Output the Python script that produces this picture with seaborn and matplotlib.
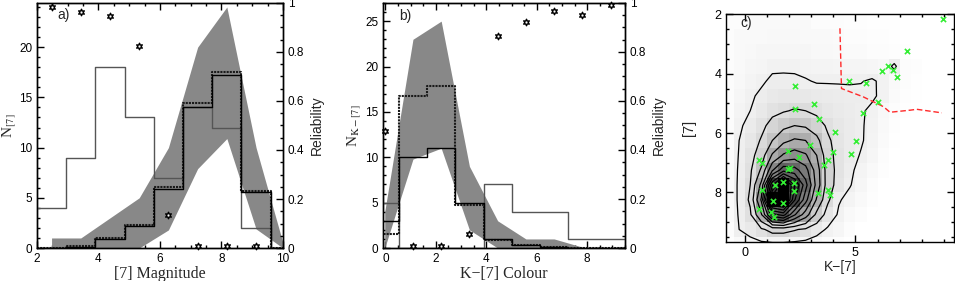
import numpy as np
import matplotlib
matplotlib.use("Agg")
import matplotlib.pyplot as plt
from matplotlib.colors import PowerNorm
from matplotlib.ticker import MultipleLocator
import seaborn as sns

sns.set_style("ticks")
plt.rcParams["font.family"] = ["Liberation Sans", "DejaVu Sans"]
plt.rcParams["mathtext.fontset"] = "stix"
plt.rcParams["xtick.direction"] = "in"
plt.rcParams["ytick.direction"] = "in"
plt.rcParams["axes.edgecolor"] = "black"
plt.rcParams["axes.linewidth"] = 1.0
plt.rcParams["xtick.color"] = "black"
plt.rcParams["ytick.color"] = "black"

SERIF = "Liberation Serif"

# ---- panel a: [7] magnitude ----
edges_a = [2.0, 2.95, 3.9, 4.85, 5.8, 6.75, 7.7, 8.65, 9.6, 10.0]
hist_a_all = [4, 9, 18, 13, 7, 14, 12, 2, 0]
hist_a_dot = [0, 0.25, 0.95, 2.3, 6.1, 14.4, 17.5, 5.7, 0]
hist_a_sol = [0, 0.15, 0.85, 2.15, 5.9, 14.0, 17.2, 5.6, 0]
band_a_x = [2.475, 3.425, 4.375, 5.325, 6.275, 7.225, 8.175, 9.125, 10.0]
band_a_lo = [0, 0, 0, 0, 1.8, 7.9, 10.9, 1.9, 0]
band_a_hi = [1, 1, 3, 5, 10, 20, 24, 10, 0.5]
rel_a_x = [2.475, 3.425, 4.375, 5.325, 6.275, 7.225, 8.175, 9.125]
rel_a = [0.984, 0.965, 0.948, 0.823, 0.135, 0.01, 0.01, 0.01]

# ---- panel b: K-[7] colour ----
edges_b = [-0.59, 0.53, 1.65, 2.77, 3.89, 5.01, 6.13, 7.25, 8.37, 9.49]
hist_b_all = [5, 0, 0, 0, 7, 4, 4, 1, 1]
hist_b_dot = [1.5, 16.7, 17.9, 4.7, 0.9, 0.3, 0.1, 0.03, 0]
hist_b_sol = [3, 10, 11, 5, 1, 0.35, 0.15, 0.05, 0]
band_b_x = [-0.03, 1.09, 2.21, 3.33, 4.45, 5.57, 6.69, 7.81]
band_b_lo = [0, 9.8, 11, 2, 0, 0, 0, 0]
band_b_hi = [4, 23, 25, 9, 3, 1, 1, 0.1]
rel_b_x = [-0.03, 1.09, 2.21, 3.33, 4.45, 5.57, 6.69, 7.81, 8.93]
rel_b = [0.476, 0.01, 0.01, 0.056, 0.864, 0.923, 0.966, 0.95, 0.993]

# ---- panel c: colour-magnitude density ----
cell_x_edges = np.arange(-1.0, 9.51, 0.5)
cell_y_edges = np.arange(2.0, 10.01, 0.5)
density_c = [
    [0.5, 0.5, 1, 1, 1, 1, 1, 1, 0.5, 0.5, 0.5, 0.3, 0.3, 0.2, 0.2, 0.1, 0, 0, 0, 0, 0],
    [0.5, 1, 1, 1, 1.2, 1.2, 1.2, 1, 1, 1, 0.8, 0.5, 0.5, 0.3, 0.3, 0.2, 0, 0, 0, 0, 0],
    [0.5, 1, 1.2, 1.5, 1.5, 1.5, 1.5, 1.5, 1.2, 1.2, 1, 0.8, 0.8, 0.5, 0.5, 0.3, 0.2, 0, 0, 0, 0],
    [0.5, 1, 1.5, 1.8, 2.5, 2.5, 2.5, 2.2, 2, 2, 1.8, 1.8, 1.8, 1.5, 1.2, 3.6, 0.5, 0.3, 0, 0, 0],
    [0.5, 1.2, 2, 2.6, 3.5, 3.6, 3.5, 3.2, 2.8, 2.8, 2.8, 2.8, 2.9, 3.3, 2.5, 1, 0.5, 0.2, 0, 0, 0],
    [0.5, 1.5, 2.6, 3.5, 4.5, 5, 5, 4.8, 4.2, 4, 3.8, 3.6, 3.5, 3.4, 2.4, 0.8, 0.3, 0.1, 0, 0, 0],
    [0.5, 2, 3, 4.5, 6.5, 7.5, 8.5, 8, 6.5, 5, 4.2, 3.8, 3.3, 2.5, 1.2, 0.5, 0.2, 0, 0, 0, 0],
    [0.5, 2.5, 4, 6.5, 10, 13, 15, 14, 11, 7, 5, 4, 3.3, 2.2, 1, 0.3, 0, 0, 0, 0, 0],
    [0.5, 3, 5, 8.5, 15, 21, 24, 23, 17, 9, 5.5, 4, 3.3, 2, 0.8, 0.2, 0, 0, 0, 0, 0],
    [0.6, 3.2, 6, 11, 24, 32, 35, 32, 23, 10, 6, 4, 2.8, 1.5, 0.5, 0, 0, 0, 0, 0, 0],
    [0.7, 3.4, 7, 16, 38, 52, 50, 42, 27, 11, 6, 3.6, 2, 1, 0.3, 0, 0, 0, 0, 0, 0],
    [0.8, 3.5, 8, 25, 70, 96, 72, 50, 28, 11, 5.5, 3.2, 1.5, 0.5, 0, 0, 0, 0, 0, 0, 0],
    [0.8, 3.5, 9, 32, 94, 100, 64, 42, 22, 9, 3.3, 2, 1, 0.3, 0, 0, 0, 0, 0, 0, 0],
    [0.7, 3.3, 7, 22, 52, 58, 40, 27, 13, 5.5, 2.5, 1, 0.5, 0, 0, 0, 0, 0, 0, 0, 0],
    [0.5, 3.0, 4.5, 7, 10, 10, 8.5, 7, 4.5, 2.5, 1.5, 0.5, 0, 0, 0, 0, 0, 0, 0, 0, 0],
    [0.2, 1, 1.5, 2, 2, 2, 1.8, 1.5, 1, 0.5, 0.3, 0, 0, 0, 0, 0, 0, 0, 0, 0, 0],
]
contour_levels = [3, 8, 15, 23, 31, 39, 47, 55, 63, 71, 79, 87]
src_x = [8.94, 7.32, 6.49, 6.18, 6.71, 6.89, 2.29, 4.69, 5.47, 6.0, 2.26, 3.12,
         5.32, 3.35, 4.06, 5.04, 2.94, 1.96, 4.0, 2.46, 4.8, 0.65, 0.8, 3.77,
         3.56, 1.96, 2.03, 2.22, 1.73, 1.36, 0.8, 2.22, 3.29, 3.77, 3.87, 1.28,
         1.73, 0.65, 1.19, 1.33]
src_y = [2.16, 3.24, 3.73, 3.9, 3.88, 4.12, 4.41, 4.25, 4.31, 4.97, 5.19, 5.02,
         5.32, 5.53, 5.96, 6.28, 6.39, 6.6, 6.65, 6.8, 6.7, 6.91, 7.02, 6.91,
         7.08, 7.22, 7.19, 7.7, 7.64, 7.74, 7.92, 7.95, 8.01, 7.92, 8.09, 8.3,
         8.37, 8.57, 8.66, 8.82]
cut_x = [4.3, 4.37, 5.35, 6.26, 6.56, 7.47, 7.77, 8.9]
cut_y = [2.47, 4.5, 4.78, 5.11, 5.3, 5.23, 5.2, 5.32]

star = (6, 1, 0)


def centres(edges):
    return [(a + b) / 2 for a, b in zip(edges[:-1], edges[1:])]


def hist_panel(ax, edges, h_all, h_dot, h_sol, bx, blo, bhi):
    ax.fill_between(bx, blo, bhi, color="#888888", lw=0, zorder=1)
    c = centres(edges)
    sns.histplot(x=c, weights=h_all, bins=edges, element="step", fill=False,
                 color="#555555", lw=1.0, ax=ax, zorder=3)
    sns.histplot(x=c, weights=h_dot, bins=edges, element="step", fill=False,
                 color="#1a1a1a", lw=1.5, ls=(0, (1, 0.5)), ax=ax, zorder=3)
    sns.histplot(x=c, weights=h_sol, bins=edges, element="step", fill=False,
                 color="black", lw=1.0, ax=ax, zorder=4)


def style_ticks(ax, right=False):
    ax.tick_params(which="both", top=True, right=right, labelsize=8.5, width=1)
    ax.tick_params(which="major", length=5)
    ax.tick_params(which="minor", length=2.5)


def reliability_axis(ax, x, y):
    ax2 = ax.twinx()
    sns.scatterplot(x=x, y=y, marker=star, s=22, facecolor="white",
                    edgecolor="black", linewidth=1.0, ax=ax2, zorder=5, clip_on=False)
    ax2.set_ylim(0, 1)
    ax2.yaxis.set_major_locator(MultipleLocator(0.2))
    ax2.yaxis.set_minor_locator(MultipleLocator(0.05))
    ax2.yaxis.set_major_formatter(plt.FuncFormatter(lambda v, p: f"{v:g}"))
    ax2.tick_params(which="both", labelsize=8.5, width=1)
    ax2.tick_params(which="major", length=5)
    ax2.tick_params(which="minor", length=2.5)
    ax2.set_ylabel("Reliability", fontsize=10, labelpad=4)
    return ax2


fig = plt.figure(figsize=(9.55, 2.81), dpi=100)

# panel a
ax_a = fig.add_axes([0.0387, 0.1174, 0.2576, 0.872])
hist_panel(ax_a, edges_a, hist_a_all, hist_a_dot, hist_a_sol, band_a_x, band_a_lo, band_a_hi)
ax_a.set_xlim(2, 10)
ax_a.set_ylim(0, 24.4)
ax_a.xaxis.set_major_locator(MultipleLocator(2))
ax_a.xaxis.set_minor_locator(MultipleLocator(0.5))
ax_a.yaxis.set_major_locator(MultipleLocator(5))
ax_a.yaxis.set_minor_locator(MultipleLocator(1))
style_ticks(ax_a)
ax_a.set_xlabel("[7] Magnitude", family=SERIF, fontsize=11.5, labelpad=1)
ax_a.set_ylabel(r"N$_{[7]}$", family=SERIF, fontsize=11, labelpad=0.5)
ax_a.text(2.85, 23.2, "a)", fontsize=10, ha="center", va="center")
reliability_axis(ax_a, rel_a_x, rel_a)

# panel b
ax_b = fig.add_axes([0.401, 0.1174, 0.2534, 0.872])
hist_panel(ax_b, edges_b, hist_b_all, hist_b_dot, hist_b_sol, band_b_x, band_b_lo, band_b_hi)
ax_b.set_xlim(-0.1, 9.5)
ax_b.set_ylim(0, 27)
ax_b.xaxis.set_major_locator(MultipleLocator(2))
ax_b.xaxis.set_minor_locator(MultipleLocator(0.5))
ax_b.yaxis.set_major_locator(MultipleLocator(5))
ax_b.yaxis.set_minor_locator(MultipleLocator(1))
style_ticks(ax_b)
ax_b.set_xlabel("K\u2212[7] Colour", family=SERIF, fontsize=11.5, labelpad=1)
ax_b.set_ylabel(r"N$_{\mathrm{K-[7]}}$", family=SERIF, fontsize=11, labelpad=1)
ax_b.text(0.77, 25.6, "b)", fontsize=10, ha="center", va="center")
reliability_axis(ax_b, rel_b_x, rel_b)

# panel c
ax_c = fig.add_axes([0.7605, 0.139, 0.2385, 0.810])
dens = np.array(density_c)
ax_c.pcolormesh(cell_x_edges, cell_y_edges, dens, cmap="gray_r",
                norm=PowerNorm(gamma=0.8, vmin=0, vmax=95), zorder=0)
ax_c.contour(centres(list(cell_x_edges)), centres(list(cell_y_edges)), dens,
             levels=contour_levels, colors="black", linewidths=0.9, zorder=2)
sns.lineplot(x=cut_x, y=cut_y, sort=False, color="#ff2a2a", lw=1.0,
             dashes=False, ls=(0, (4, 2)), ax=ax_c, zorder=3)
sns.scatterplot(x=src_x, y=src_y, marker="x", s=14, color="#33ee33",
                linewidth=1.2, ax=ax_c, zorder=4)
ax_c.set_xlim(-0.83, 9.45)
ax_c.set_ylim(9.67, 2)
ax_c.xaxis.set_major_locator(MultipleLocator(5))
ax_c.xaxis.set_minor_locator(MultipleLocator(1))
ax_c.yaxis.set_major_locator(MultipleLocator(2))
ax_c.yaxis.set_minor_locator(MultipleLocator(0.5))
style_ticks(ax_c, right=True)
ax_c.tick_params(labelsize=9)
ax_c.set_xlabel("K\u2212[7]", fontsize=10, labelpad=1)
ax_c.set_ylabel("[7]", fontsize=10.5, labelpad=13)
ax_c.text(0.09, 2.3, "c)", fontsize=10, ha="center", va="center")

fig.savefig("out.png", dpi=100)
